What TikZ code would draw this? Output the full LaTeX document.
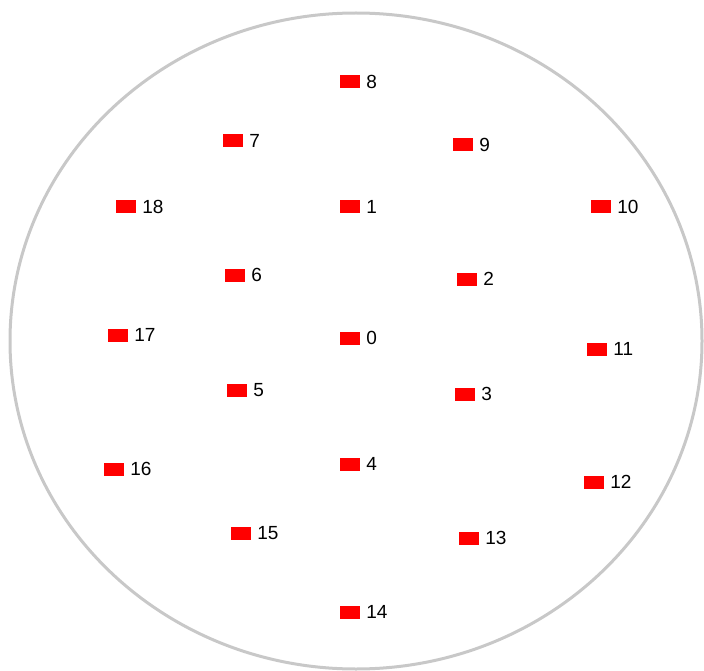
\documentclass[tikz,border=0pt]{standalone}
\usepackage{fontspec}
\setmainfont{Liberation Sans}
\usepackage{xcolor}
\usepackage{tikz}
\usetikzlibrary{positioning}
\definecolor{rimGray}{RGB}{200,200,200}
\definecolor{probeRed}{RGB}{255,0,0}

\begin{document}
\begin{tikzpicture}[x=1pt, y=-1pt,
    probe/.style={fill=probeRed, draw=none, minimum width=20pt, minimum height=13pt, inner sep=0pt},
    tag/.style={inner sep=0pt, font=\fontsize{19}{19}\selectfont}]
    \useasboundingbox (0,0) rectangle (704,671);
    \draw[draw=rimGray, line width=3pt] (356,341) ellipse [x radius=346pt, y radius=328pt];

    \node[probe] (p0) at (350,338) {};
    \node[probe] (p1) at (350,207) {};
    \node[probe] (p2) at (467,279) {};
    \node[probe] (p3) at (465,394) {};
    \node[probe] (p4) at (350,464) {};
    \node[probe] (p5) at (237,390) {};
    \node[probe] (p6) at (235,275) {};
    \node[probe] (p7) at (233,141) {};
    \node[probe] (p8) at (350,82) {};
    \node[probe] (p9) at (463,145) {};
    \node[probe] (p10) at (601,207) {};
    \node[probe] (p11) at (597,349) {};
    \node[probe] (p12) at (594,482) {};
    \node[probe] (p13) at (469,538) {};
    \node[probe] (p14) at (350,612) {};
    \node[probe] (p15) at (241,533) {};
    \node[probe] (p16) at (114,469) {};
    \node[probe] (p17) at (118,335) {};
    \node[probe] (p18) at (126,207) {};

    \node[tag, right=6pt of p0] (t0) {0};
    \node[tag, right=6pt of p1] (t1) {1};
    \node[tag, right=6pt of p2] (t2) {2};
    \node[tag, right=6pt of p3] (t3) {3};
    \node[tag, right=6pt of p4] (t4) {4};
    \node[tag, right=6pt of p5] (t5) {5};
    \node[tag, right=6pt of p6] (t6) {6};
    \node[tag, right=6pt of p7] (t7) {7};
    \node[tag, right=6pt of p8] (t8) {8};
    \node[tag, right=6pt of p9] (t9) {9};
    \node[tag, right=6pt of p10] (t10) {10};
    \node[tag, right=6pt of p11] (t11) {11};
    \node[tag, right=6pt of p12] (t12) {12};
    \node[tag, right=6pt of p13] (t13) {13};
    \node[tag, right=6pt of p14] (t14) {14};
    \node[tag, right=6pt of p15] (t15) {15};
    \node[tag, right=6pt of p16] (t16) {16};
    \node[tag, right=6pt of p17] (t17) {17};
    \node[tag, right=6pt of p18] (t18) {18};
\end{tikzpicture}
\end{document}
